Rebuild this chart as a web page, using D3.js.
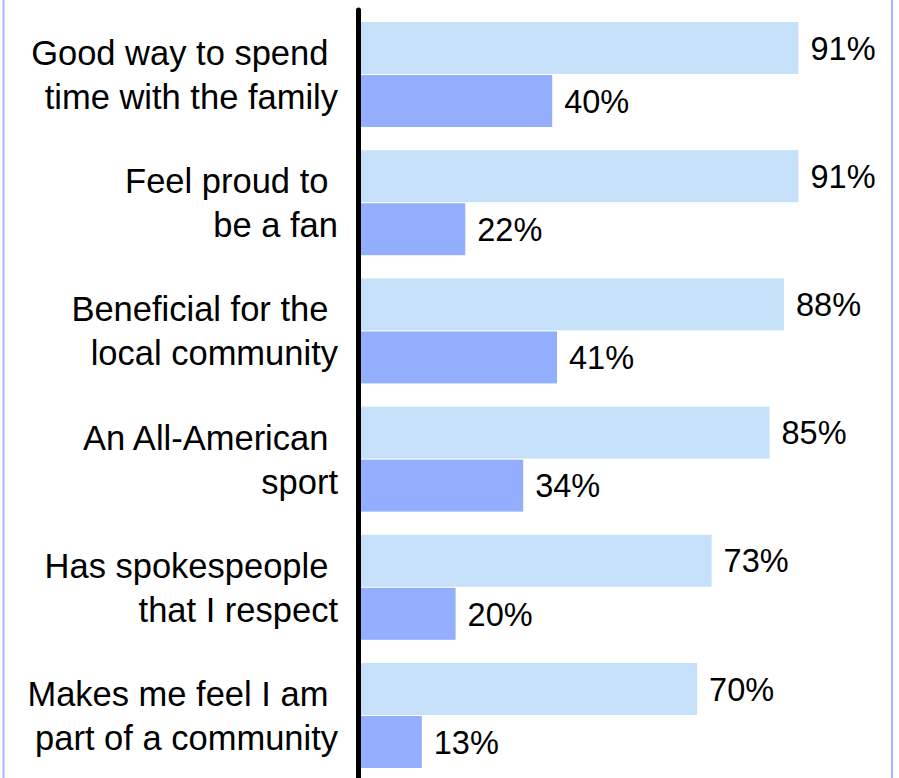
<!DOCTYPE html>
<html>
<head>
<meta charset="utf-8">
<script src="https://cdn.jsdelivr.net/npm/d3@7"></script>
<style>
  html, body { margin: 0; padding: 0; background: #ffffff; }
  svg { display: block; }
  text { font-family: "Liberation Sans", Arial, Helvetica, sans-serif; fill: #000; }
</style>
</head>
<body>
<svg id="chart" width="899" height="778"></svg>
<script>
// Statements, each split into the two lines shown beside its bars
const categories = [
  ["Good way to spend ", "time with the family"],
  ["Feel proud to ", "be a fan"],
  ["Beneficial for the ", "local community"],
  ["An All-American ", "sport"],
  ["Has spokespeople ", "that I respect"],
  ["Makes me feel I am ", "part of a community"]
];
const seriesKeys = ["upper", "lower"];
const upperValues = [91, 91, 88, 85, 73, 70];
const lowerValues = [40, 22, 41, 34, 20, 13];
const seriesColors = ["#c7e0fa", "#92aefd"];

const rows = categories.map((lines, i) => ({
  id: i,
  lines,
  values: [upperValues[i], lowerValues[i]]
}));

const svg = d3.select("#chart");
const W = 899, H = 778;

// Thin frame lines at the left and right edges
svg.append("line").attr("x1", 3.5).attr("x2", 3.5).attr("y1", 0).attr("y2", H)
  .attr("stroke", "#a4b8fb").attr("stroke-width", 2);
svg.append("line").attr("x1", 892).attr("x2", 892).attr("y1", 0).attr("y2", H)
  .attr("stroke", "#a4b8fb").attr("stroke-width", 2);

const x = d3.scaleLinear().domain([0, 100]).range([359, 842]);

const y = d3.scaleBand()
  .domain(rows.map(d => d.id))
  .range([22, 768])
  .paddingInner(0.181)
  .paddingOuter(0);

const ySeries = d3.scaleBand()
  .domain(seriesKeys)
  .range([0, y.bandwidth()])
  .paddingInner(0.02)
  .paddingOuter(0);

const groups = svg.append("g").selectAll("g.group")
  .data(rows)
  .join("g")
  .attr("class", "group")
  .attr("transform", d => `translate(0,${y(d.id)})`);

const bars = groups.selectAll("g.bar")
  .data(d => d.values.map((v, k) => ({ key: seriesKeys[k], k, value: v })))
  .join("g")
  .attr("class", "bar");

bars.append("rect")
  .attr("x", x(0))
  .attr("y", d => ySeries(d.key))
  .attr("width", d => x(d.value) - x(0))
  .attr("height", ySeries.bandwidth())
  .attr("fill", d => seriesColors[d.k]);

bars.append("text")
  .attr("x", d => x(d.value) + 12)
  .attr("y", d => ySeries(d.key) + ySeries.bandwidth() / 2)
  .attr("dy", "0.36em")
  .attr("font-size", 32.5)
  .text(d => d.value + "%");

// Category labels, right-aligned against the axis
const labelX = 338;
groups.append("text")
  .attr("text-anchor", "end")
  .attr("font-size", 34.5)
  .attr("xml:space", "preserve")
  .style("white-space", "pre")
  .selectAll("tspan")
  .data(d => d.lines)
  .join("tspan")
  .attr("x", labelX)
  .attr("y", (d, i) => y.bandwidth() / 2 - 22 + i * 44)
  .attr("dy", "0.36em")
  .text(d => d);

// Vertical axis line
svg.append("line")
  .attr("x1", 358.5).attr("x2", 358.5)
  .attr("y1", 10).attr("y2", H + 5)
  .attr("stroke", "#000")
  .attr("stroke-width", 5)
  .attr("stroke-linecap", "round");
</script>
</body>
</html>
